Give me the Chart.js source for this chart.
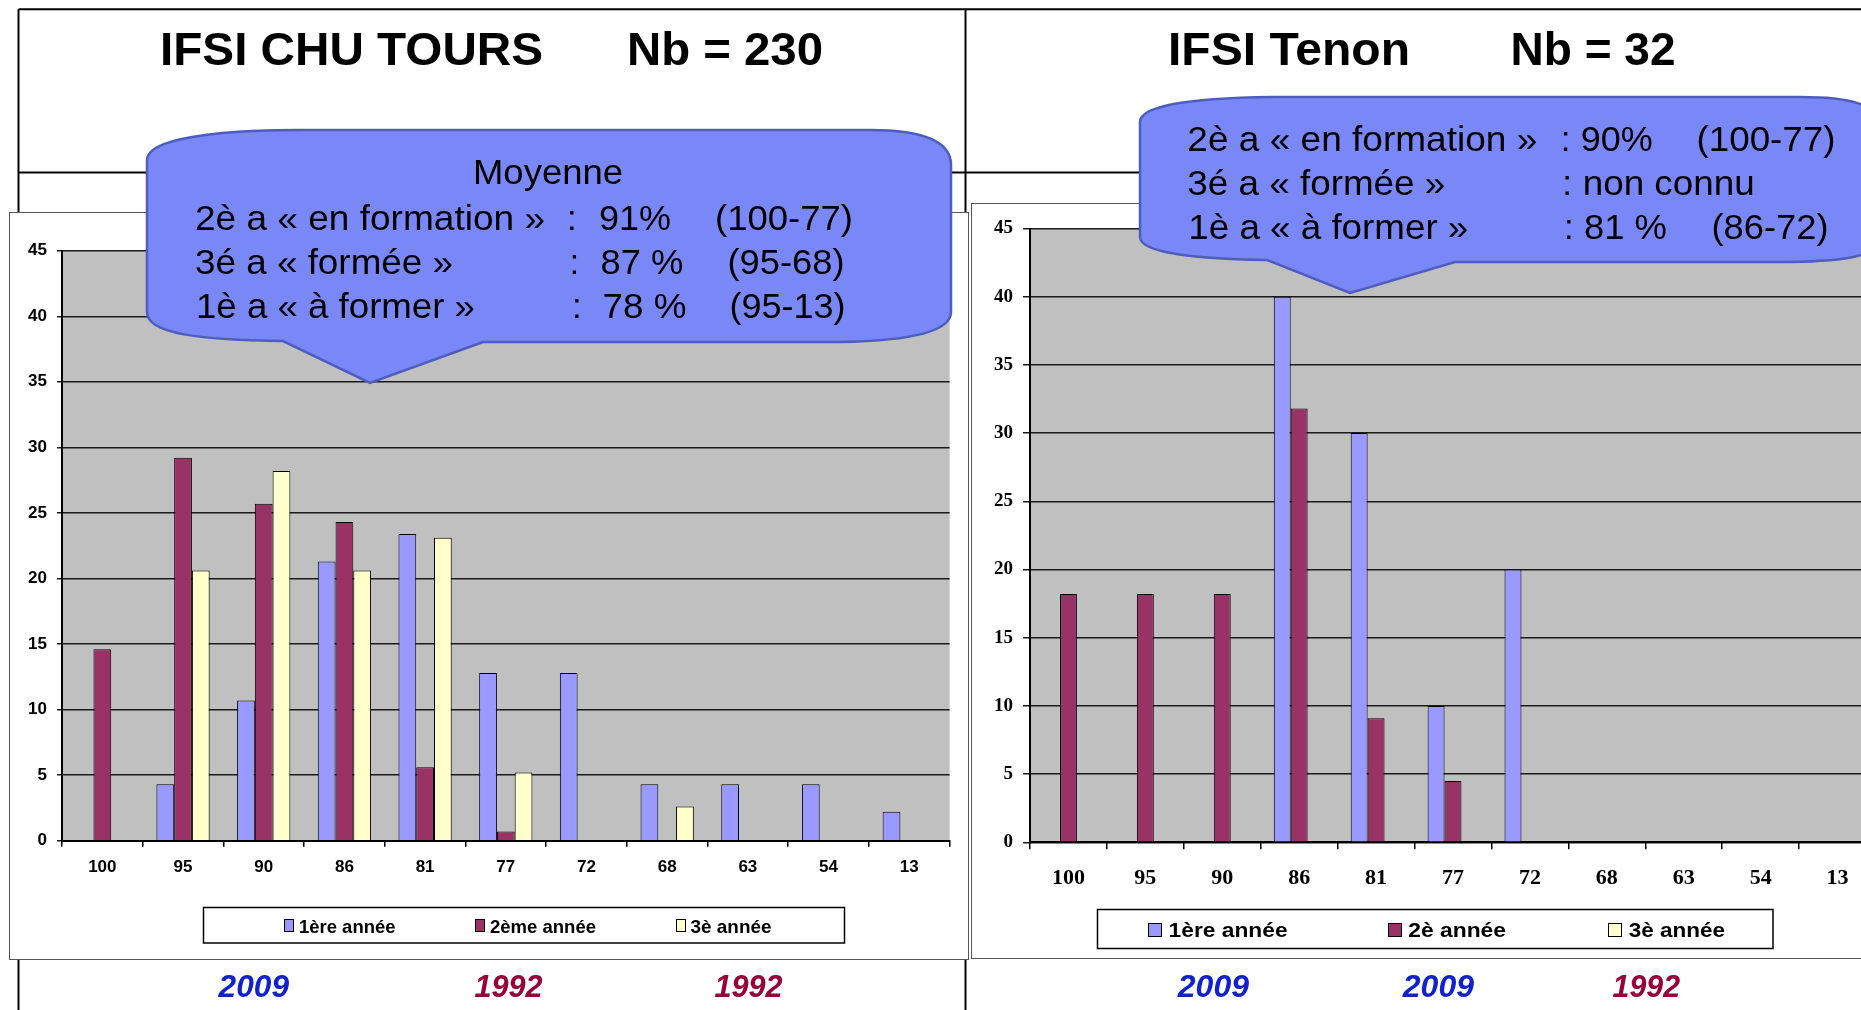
<!DOCTYPE html>
<html>
<head>
<meta charset="utf-8">
<script src="https://cdn.jsdelivr.net/npm/chart.js@4.4.1/dist/chart.umd.min.js"></script>
<style>
  html, body { margin:0; padding:0; background:#fff; }
  body { width:1861px; height:1010px; overflow:hidden; position:relative; font-family:"Liberation Sans", Arial, sans-serif; }
  .abs { position:absolute; }
  svg { position:absolute; left:0; top:0; }
  .box { position:absolute; background:#fff; border:1px solid #555; box-sizing:border-box; }
</style>
</head>
<body>

<!-- slide table lines (background) -->
<svg width="1861" height="1010" style="z-index:0">
  <g stroke="#000" stroke-width="2" fill="none">
    <line x1="18.5" y1="9.3" x2="1861" y2="9.3"/>
    <line x1="18.5" y1="9.3" x2="18.5" y2="1010"/>
    <line x1="18.5" y1="172.5" x2="1160" y2="172.5"/>
    <line x1="965.5" y1="9.3" x2="965.5" y2="1010"/>
  </g>
</svg>

<div class="box" style="left:8.5px;top:212px;width:960px;height:748px;z-index:1"></div>
<div class="box" style="left:971px;top:202.5px;width:1000px;height:756.5px;z-index:1"></div>

<canvas id="c1" class="abs" width="959" height="747" style="left:9px;top:212px;width:959px;height:747px;z-index:2"></canvas>
<canvas id="c2" class="abs" width="920" height="755" style="left:972px;top:203px;width:920px;height:755px;z-index:2"></canvas>

<!-- foreground: titles, bubbles, legends, years -->
<svg width="1861" height="1010" style="z-index:3" font-family="'Liberation Sans', Arial, sans-serif">
  <!-- titles -->
  <g font-size="46" font-weight="bold" fill="#000">
    <text x="160" y="65" textLength="383" lengthAdjust="spacingAndGlyphs">IFSI CHU TOURS</text>
    <text x="627" y="65" textLength="196" lengthAdjust="spacingAndGlyphs">Nb = 230</text>
    <text x="1168" y="65" textLength="242" lengthAdjust="spacingAndGlyphs">IFSI Tenon</text>
    <text x="1510.5" y="65" textLength="165" lengthAdjust="spacingAndGlyphs">Nb = 32</text>
  </g>

  <!-- left bubble -->
  <path d="M147,160 C147,138 220,130 300,130 L870,130 C930,130 951,145 951,165 L951,312 C951,334 900,341 840,342 L483,342 L370,383 L283,341 C200,340 147,334 147,312 Z"
        fill="#7A88F7" stroke="#4D5CBF" stroke-width="2.5"/>
  <g font-size="35" fill="#000">
    <text x="473" y="184" textLength="150" lengthAdjust="spacingAndGlyphs">Moyenne</text>
    <text x="195" y="230" textLength="350" lengthAdjust="spacingAndGlyphs">2è a « en formation »</text>
    <text x="567" y="230">:</text>
    <text x="599" y="230" textLength="72" lengthAdjust="spacingAndGlyphs">91%</text>
    <text x="715" y="230" textLength="138" lengthAdjust="spacingAndGlyphs">(100-77)</text>
    <text x="195" y="274" textLength="258" lengthAdjust="spacingAndGlyphs">3é a « formée »</text>
    <text x="569.5" y="274">:</text>
    <text x="600.5" y="274" textLength="83" lengthAdjust="spacingAndGlyphs">87 %</text>
    <text x="727.5" y="274" textLength="117" lengthAdjust="spacingAndGlyphs">(95-68)</text>
    <text x="196" y="318.3" textLength="279" lengthAdjust="spacingAndGlyphs">1è a « à former »</text>
    <text x="572" y="318.3">:</text>
    <text x="602.5" y="318.3" textLength="84" lengthAdjust="spacingAndGlyphs">78 %</text>
    <text x="729.5" y="318.3" textLength="116" lengthAdjust="spacingAndGlyphs">(95-13)</text>
  </g>

  <!-- right bubble -->
  <path d="M1140,122 C1140,104 1200,97 1290,97 L1800,97 C1850,97 1878,104 1878,125 L1878,240 C1878,255 1850,261 1790,262 L1455,262 L1350,293 L1267,260 C1190,259 1140,252 1140,237 Z"
        fill="#7A88F7" stroke="#4D5CBF" stroke-width="2.5"/>
  <g font-size="35" fill="#000">
    <text x="1187.3" y="150.7" textLength="350" lengthAdjust="spacingAndGlyphs">2è a « en formation »</text>
    <text x="1560.7" y="150.7">:</text>
    <text x="1580.7" y="150.7" textLength="72" lengthAdjust="spacingAndGlyphs">90%</text>
    <text x="1696.5" y="150.7" textLength="139" lengthAdjust="spacingAndGlyphs">(100-77)</text>
    <text x="1187.3" y="195" textLength="258" lengthAdjust="spacingAndGlyphs">3é a « formée »</text>
    <text x="1562.3" y="195">:</text>
    <text x="1582.7" y="195" textLength="172" lengthAdjust="spacingAndGlyphs">non connu</text>
    <text x="1188.3" y="239.3" textLength="280" lengthAdjust="spacingAndGlyphs">1è a « à former »</text>
    <text x="1564" y="239.3">:</text>
    <text x="1584" y="239.3" textLength="83" lengthAdjust="spacingAndGlyphs">81 %</text>
    <text x="1711.5" y="239.3" textLength="117" lengthAdjust="spacingAndGlyphs">(86-72)</text>
  </g>

  <!-- left legend -->
  <rect x="203.5" y="907.5" width="641" height="35.5" fill="#fff" stroke="#000" stroke-width="1.5"/>
  <g stroke="#000" stroke-width="1">
    <rect x="284.5" y="919.5" width="9" height="12" fill="#9999FF"/>
    <rect x="475.5" y="919.5" width="9" height="12" fill="#993366"/>
    <rect x="676.5" y="919.5" width="9" height="12" fill="#FFFFCC"/>
  </g>
  <g font-size="18.5" font-weight="bold" fill="#000">
    <text x="299" y="933.3" textLength="96.5" lengthAdjust="spacingAndGlyphs">1ère année</text>
    <text x="490" y="933.3" textLength="106" lengthAdjust="spacingAndGlyphs">2ème année</text>
    <text x="690.5" y="933.3" textLength="81" lengthAdjust="spacingAndGlyphs">3è année</text>
  </g>

  <!-- right legend -->
  <rect x="1097.5" y="909.5" width="675.5" height="39" fill="#fff" stroke="#000" stroke-width="1.5"/>
  <g stroke="#000" stroke-width="1">
    <rect x="1148.5" y="923.5" width="13" height="13" fill="#9999FF"/>
    <rect x="1388.5" y="923.5" width="13" height="13" fill="#993366"/>
    <rect x="1608.5" y="923.5" width="13" height="13" fill="#FFFFCC"/>
  </g>
  <g font-size="21" font-weight="bold" fill="#000">
    <text x="1168.6" y="936.7" textLength="119" lengthAdjust="spacingAndGlyphs">1ère année</text>
    <text x="1408.3" y="936.7" textLength="97.7" lengthAdjust="spacingAndGlyphs">2è année</text>
    <text x="1628.7" y="936.7" textLength="96.3" lengthAdjust="spacingAndGlyphs">3è année</text>
  </g>

  <!-- year labels -->
  <g font-size="31" font-weight="bold" font-style="italic">
    <text x="218.6" y="996.7" fill="#1122CC" textLength="70.4" lengthAdjust="spacingAndGlyphs">2009</text>
    <text x="474.6" y="996.7" fill="#990038" textLength="68" lengthAdjust="spacingAndGlyphs">1992</text>
    <text x="714.5" y="996.7" fill="#990038" textLength="68" lengthAdjust="spacingAndGlyphs">1992</text>
    <text x="1177.8" y="996.7" fill="#1122CC" textLength="71.2" lengthAdjust="spacingAndGlyphs">2009</text>
    <text x="1402.8" y="996.7" fill="#1122CC" textLength="71.2" lengthAdjust="spacingAndGlyphs">2009</text>
    <text x="1612.6" y="996.7" fill="#990038" textLength="67.4" lengthAdjust="spacingAndGlyphs">1992</text>
  </g>
</svg>

<script>
// ---- data ----
const categories = ['100', '95', '90', '86', '81', '77', '72', '68', '63', '54', '13'];
const seriesNamesTours = ['1ère année', '2ème année', '3è année'];
const seriesNamesTenon = ['1ère année', '2è année', '3è année'];
const toursFirst  = [0, 4.3, 10.7, 21.3, 23.4, 12.8, 12.8, 4.3, 4.3, 4.3, 2.2];
const toursSecond = [14.6, 29.2, 25.7, 24.3, 5.6, 0.7, 0, 0, 0, 0, 0];
const toursThird  = [0, 20.6, 28.2, 20.6, 23.1, 5.2, 0, 2.6, 0, 0, 0];
const tenonFirst  = [0, 0, 0, 40, 30, 10, 20, 0, 0, 0, 0];
const tenonSecond = [18.2, 18.2, 18.2, 31.8, 9.1, 4.5, 0, 0, 0, 0, 0];
const tenonThird  = [0, 0, 0, 0, 0, 0, 0, 0, 0, 0, 0];
const yMin = 0, yMax = 45, yStep = 5;

const seriesColors = ['#9999FF', '#993366', '#FFFFCC'];

const plotBg = {
  id: 'plotBg',
  beforeDraw(chart) {
    const { ctx, chartArea: a } = chart;
    ctx.save();
    ctx.fillStyle = '#C0C0C0';
    ctx.fillRect(a.left, a.top, a.right - a.left, a.bottom - a.top);
    ctx.restore();
  }
};

function makeChart(id, names, values, cfg) {
  return new Chart(document.getElementById(id), {
    type: 'bar',
    data: {
      labels: categories,
      datasets: values.map((v, i) => ({
        label: names[i],
        data: v,
        backgroundColor: seriesColors[i],
        borderColor: '#000',
        borderWidth: 1,
        categoryPercentage: 0.66,
        barPercentage: 1
      }))
    },
    options: {
      responsive: false,
      animation: false,
      devicePixelRatio: 1,
      layout: { padding: { top: cfg.padTop, right: cfg.padRight, bottom: 0, left: 0 } },
      plugins: { legend: { display: false }, tooltip: { enabled: false } },
      scales: {
        x: {
          grid: { offset: true, drawOnChartArea: false, drawTicks: true, tickLength: cfg.xTick, color: '#000', lineWidth: 1.5 },
          border: { display: true, color: '#000', width: 2 },
          ticks: { color: '#000', font: cfg.xFont, padding: cfg.xPad, maxRotation: 0, autoSkip: false },
          afterFit(s) { s.height = cfg.xH; }
        },
        y: {
          min: yMin, max: yMax,
          grid: { color: '#1a1a1a', lineWidth: 1.5, tickLength: cfg.yTick },
          border: { display: true, color: '#000', width: 2 },
          ticks: { stepSize: yStep, color: '#000', font: cfg.yFont, padding: cfg.yPad },
          afterFit(s) { s.width = cfg.yW; }
        }
      }
    },
    plugins: [plotBg]
  });
}

makeChart('c1', seriesNamesTours, [toursFirst, toursSecond, toursThird], {
  padTop: 38.7, padRight: 18.4, xH: 118.3, yW: 53,
  xTick: 6, xPad: 10, yTick: 5, yPad: 10,
  xFont: { family: "'Liberation Sans', Arial, sans-serif", size: 17, weight: 'bold' },
  yFont: { family: "'Liberation Sans', Arial, sans-serif", size: 17, weight: 'bold' }
});

makeChart('c2', seriesNamesTenon, [tenonFirst, tenonSecond, tenonThird], {
  padTop: 25.5, padRight: 16, xH: 115.7, yW: 58,
  xTick: 7, xPad: 16, yTick: 7, yPad: 10,
  xFont: { family: "'Liberation Serif', 'Times New Roman', serif", size: 22, weight: 'bold' },
  yFont: { family: "'Liberation Serif', 'Times New Roman', serif", size: 19, weight: 'bold' }
});
</script>
</body>
</html>
